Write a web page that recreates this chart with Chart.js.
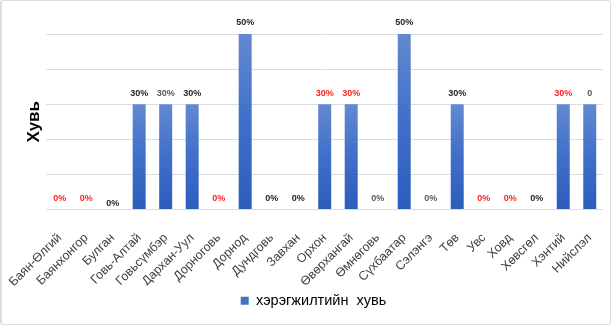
<!DOCTYPE html>
<html>
<head>
<meta charset="utf-8">
<script src="https://cdn.jsdelivr.net/npm/chart.js@4"></script>
<style>
  html, body { margin: 0; padding: 0; background: #fff; }
  .box {
    width: 611px; height: 325px; box-sizing: border-box;
    border: 1px solid #d9dee5; border-left-width: 2px; border-radius: 3px;
    position: relative;
  }
  canvas { position: absolute; left: 0; top: 0; }
</style>
</head>
<body>
<div class="box"><canvas id="chart" width="608" height="323"></canvas></div>
<script>
const aimags = ['Баян-Өлгий', 'Баянхонгор', 'Булган', 'Говь-Алтай', 'Говьсүмбэр', 'Дархан-Уул',
    'Дорноговь', 'Дорнод', 'Дундговь', 'Завхан', 'Орхон', 'Өвөрхангай', 'Өмнөговь', 'Сүхбаатар',
    'Сэлэнгэ', 'Төв', 'Увс', 'Ховд', 'Хөвсгөл', 'Хэнтий', 'Нийслэл'];
const percent = [0, 0, 0, 30, 30, 30, 0, 50, 0, 0, 30, 30, 0, 50, 0, 30, 0, 0, 0, 30, 30];
const valueLabels = ['0%', '0%', '0%', '30%', '30%', '30%', '0%', '50%', '0%', '0%', '30%', '30%',
    '0%', '50%', '0%', '30%', '0%', '0%', '0%', '30%', '0'];
// r = red, k = black, g = gray
const labelTone = ['r', 'r', 'k', 'k', 'g', 'k', 'r', 'k', 'k', 'k', 'r', 'r',
    'g', 'k', 'g', 'k', 'r', 'r', 'k', 'r', 'g'];

const toneColor = { r: '#ff1f1f', k: '#262626', g: '#595959' };

const valueLabelPlugin = {
    id: 'valueLabels',
    afterDatasetsDraw(chart) {
        const c = chart.ctx;
        const meta = chart.getDatasetMeta(0);
        c.save();
        c.font = 'bold 9px "Liberation Sans", Arial, sans-serif';
        c.textAlign = 'center';
        c.textBaseline = 'middle';
        meta.data.forEach((bar, i) => {
            c.fillStyle = toneColor[labelTone[i]];
            let y = bar.y - 11;
            if (i === 2) y += 5;
            c.fillText(valueLabels[i], bar.x, y);
        });
        c.restore();
    }
};

const ctx = document.getElementById('chart').getContext('2d');

new Chart(ctx, {
    type: 'bar',
    data: {
        labels: aimags,
        datasets: [{
            label: 'хэрэгжилтийн  хувь',
            data: percent,
            backgroundColor: (context) => {
                const chart = context.chart;
                if (!chart.chartArea) return '#4472c4';
                if (context.type !== 'data') return '#4472c4';
                const yScale = chart.scales.y;
                const top = yScale.getPixelForValue(context.raw || 0);
                const bottom = yScale.getPixelForValue(0);
                if (bottom - top < 1) return '#4472c4';
                const g = chart.ctx.createLinearGradient(0, top, 0, bottom);
                g.addColorStop(0, '#6389d0');
                g.addColorStop(0.5, '#3f6fca');
                g.addColorStop(1, '#2d5dbb');
                return g;
            },
            barPercentage: 0.98,
            categoryPercentage: 0.5
        }]
    },
    options: {
        responsive: false,
        animation: false,
        layout: { padding: { left: 22, right: 7, top: 33, bottom: 6 } },
        plugins: {
            legend: {
                position: 'bottom',
                labels: {
                    boxWidth: 8,
                    boxHeight: 8,
                    padding: 8,
                    color: '#262626',
                    font: { size: 14.5, family: '"Liberation Sans", Arial, sans-serif' },
                    generateLabels: (chart) => [{
                        text: chart.data.datasets[0].label,
                        fillStyle: '#4472c4',
                        strokeStyle: '#4472c4',
                        lineWidth: 0,
                        datasetIndex: 0
                    }]
                }
            },
            tooltip: { enabled: false }
        },
        scales: {
            x: {
                grid: { display: false, drawTicks: false },
                border: { display: false },
                afterFit: (scale) => {
                    scale.height = 76;
                    scale.paddingLeft = 0;
                    scale.paddingRight = 0;
                },
                ticks: {
                    maxRotation: 45,
                    minRotation: 45,
                    autoSkip: false,
                    padding: 21,
                    color: '#404040',
                    font: { size: 12.5, family: '"Liberation Sans", Arial, sans-serif' }
                }
            },
            y: {
                min: 0,
                max: 50,
                ticks: { display: false, stepSize: 10 },
                grid: { color: '#d9dde3', lineWidth: 1, drawTicks: false },
                border: { display: false },
                title: {
                    display: true,
                    text: 'Хувь',
                    color: '#000',
                    padding: { top: 0, bottom: 2 },
                    font: { size: 17, weight: 'bold', family: '"Liberation Sans", Arial, sans-serif' }
                }
            }
        }
    },
    plugins: [valueLabelPlugin]
});
</script>
</body>
</html>
